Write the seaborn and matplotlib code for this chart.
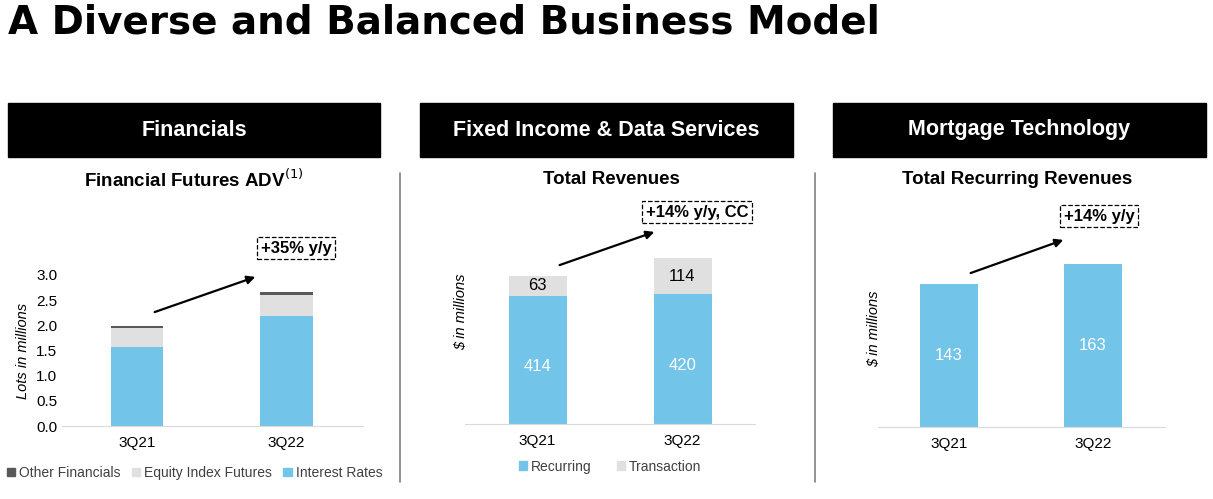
import matplotlib
matplotlib.use("Agg")
import matplotlib.pyplot as plt
import seaborn as sns
import pandas as pd
from matplotlib.patches import Rectangle, Patch

sns.set_style("white")
plt.rcParams['font.family'] = ['Liberation Sans', 'DejaVu Sans']
plt.rcParams['text.color'] = 'black'
plt.rcParams['xtick.color'] = 'black'
plt.rcParams['ytick.color'] = 'black'
plt.rcParams['axes.labelcolor'] = 'black'

quarters = ["3Q21", "3Q22"]
# Financial futures ADV (lots in millions)
interest_rates = [1.56, 2.19]
equity_index = [0.38, 0.41]
other_fin = [0.04, 0.06]
# Fixed income & data services ($M)
recurring = [414, 420]
transaction = [63, 114]
# Mortgage technology recurring ($M)
mortgage = [143, 163]

BLUE = "#72c4e8"
GREY = "#e0e0e0"
DARK = "#595959"
W, H = 1213, 499

fig = plt.figure(figsize=(W / 100, H / 100), dpi=100)


def px_axes(x0, y0, x1, y1):
    # pixel box (top-left origin) -> axes
    return fig.add_axes([x0 / W, 1 - y1 / H, (x1 - x0) / W, (y1 - y0) / H])


fig.text(8 / W, 1 - 22 / H, "A Diverse and Balanced Business Model", fontsize=28,
         fontweight="heavy", va="center", ha="left", family=['DejaVu Sans'])

headers = [("Financials", 8, 380), ("Fixed Income & Data Services", 420, 793),
           ("Mortgage Technology", 833, 1206)]
for txt, x0, x1 in headers:
    fig.add_artist(Rectangle((x0 / W, 1 - 157 / H), (x1 - x0) / W, 54 / H,
                             transform=fig.transFigure, color="black"))
    fig.text((x0 + x1) / 2 / W, 1 - 130 / H, txt, color="white", fontsize=15.5,
             fontweight="bold", ha="center", va="center")

for xs in (400, 815):
    fig.add_artist(plt.Line2D([xs / W, xs / W], [1 - 173 / H, 1 - 482 / H],
                              transform=fig.transFigure, color="#808080", lw=1.2))

subs = [("Financial Futures ADV$^{(1)}$", 194), ("Total Revenues", 611),
        ("Total Recurring Revenues", 1017)]
for txt, xc in subs:
    fig.text(xc / W, 1 - 180 / H, txt, fontsize=13.5, fontweight="bold",
             ha="center", va="center")


def style(ax):
    sns.despine(ax=ax, left=True)
    ax.spines["bottom"].set_color("#d9d9d9")
    ax.tick_params(axis="both", length=0, labelsize=11)
    ax.tick_params(axis="x", pad=7)
    ax.set_xlabel("")


# Panel 1
ax1 = px_axes(62, 275, 363, 426)
df1 = pd.DataFrame({"q": quarters,
                    "tot": [a + b + c for a, b, c in zip(interest_rates, equity_index, other_fin)],
                    "eq": [a + b for a, b in zip(interest_rates, equity_index)],
                    "ir": interest_rates})
for col, c in [("tot", DARK), ("eq", GREY), ("ir", BLUE)]:
    sns.barplot(data=df1, x="q", y=col, color=c, width=0.35, ax=ax1,
                saturation=1, linewidth=0)
ax1.set_xlim(-0.5, 1.51)
ax1.set_ylim(0, 3.0)
ax1.set_yticks([0, 0.5, 1.0, 1.5, 2.0, 2.5, 3.0])
ax1.set_yticklabels([f"{v:.1f}" for v in ax1.get_yticks()])
ax1.set_ylabel("Lots in millions", fontsize=10.5, style="italic")
style(ax1)
ax1.legend(handles=[Patch(color=DARK, label="Other Financials"),
                    Patch(color=GREY, label="Equity Index Futures"),
                    Patch(color=BLUE, label="Interest Rates")],
           loc="center", bbox_to_anchor=(0.44, -0.31), ncol=3, frameon=False,
           fontsize=10, handlelength=0.6, handleheight=0.6, handletextpad=0.3,
           columnspacing=0.8, labelcolor="#404040")

# Panel 2
ax2 = px_axes(465, 200, 755, 424)
df2 = pd.DataFrame({"q": quarters,
                    "tot": [a + b for a, b in zip(recurring, transaction)],
                    "rec": recurring})
sns.barplot(data=df2, x="q", y="tot", color=GREY, width=0.4, ax=ax2, saturation=1, linewidth=0)
sns.barplot(data=df2, x="q", y="rec", color=BLUE, width=0.4, ax=ax2, saturation=1, linewidth=0)
ax2.set_xlim(-0.5, 1.5)
ax2.set_ylim(0, 224 / 0.31)
ax2.set_yticks([])
ax2.set_ylabel("$ in millions", fontsize=10.5, style="italic", labelpad=-2)
style(ax2)
for i in range(2):
    ax2.text(i, recurring[i] * 0.45, str(recurring[i]), color="white",
             ha="center", va="center", fontsize=12)
    ax2.text(i, recurring[i] + transaction[i] / 2, str(transaction[i]),
             ha="center", va="center", fontsize=12)
ax2.legend(handles=[Patch(color=BLUE, label="Recurring"),
                    Patch(color=GREY, label="Transaction")],
           loc="center", bbox_to_anchor=(0.5, -0.19), ncol=2, frameon=False,
           fontsize=10, handlelength=0.6, handleheight=0.6, handletextpad=0.3,
           columnspacing=1.8, labelcolor="#404040")

# Panel 3
ax3 = px_axes(878, 230, 1165, 427)
df3 = pd.DataFrame({"q": quarters, "v": mortgage})
sns.barplot(data=df3, x="q", y="v", color=BLUE, width=0.4, ax=ax3, saturation=1, linewidth=0)
ax3.set_xlim(-0.49, 1.5)
ax3.set_ylim(0, 197 / 1.0)
ax3.set_yticks([])
ax3.set_ylabel("$ in millions", fontsize=10.5, style="italic", labelpad=-2)
style(ax3)
for i in range(2):
    ax3.text(i, mortgage[i] * 0.5, str(mortgage[i]), color="white",
             ha="center", va="center", fontsize=12)

# growth arrows and boxes (figure pixels)
arrows = [((152, 313), (258, 276), "+35% y/y", (296, 248)),
          ((557, 266), (657, 231), "+14% y/y, CC", (697, 212)),
          ((968, 274), (1066, 239), "+14% y/y", (1099, 216))]
for (x0, y0), (x1, y1), lbl, (bx, by) in arrows:
    fig.add_artist(matplotlib.patches.FancyArrowPatch(
        (x0 / W, 1 - y0 / H), (x1 / W, 1 - y1 / H), transform=fig.transFigure,
        arrowstyle="-|>", mutation_scale=12, color="black", lw=1.6))
    fig.text(bx / W, 1 - by / H, lbl, fontsize=12, fontweight="bold",
             ha="center", va="center",
             bbox=dict(boxstyle="square,pad=0.2", fc="white", ec="black",
                       ls="--", lw=0.9))

fig.savefig("out.png", dpi=100)
